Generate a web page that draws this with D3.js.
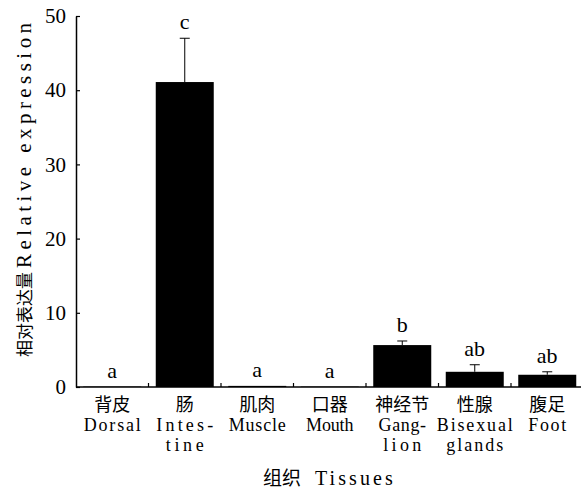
<!DOCTYPE html>
<html lang="zh">
<head>
<meta charset="UTF-8">
<title>相对表达量</title>
<style>
  body { margin: 0; background: #fff; }
</style>
</head>
<body>
<script src="https://cdn.jsdelivr.net/npm/d3@7/dist/d3.min.js"></script>
<script>
  var width = 581, height = 490;

  // 数据
  var tissuesCn = ["背皮", "肠", "肌肉", "口器", "神经节", "性腺", "腹足"];
  var tissuesEn = [["Dorsal"], ["Intes-", "tine"], ["Muscle"], ["Mouth"], ["Gang-", "lion"], ["Bisexual", "glands"], ["Foot"]];
  var expression = [0.05, 41.1, 0.15, 0.05, 5.65, 2.05, 1.65];
  var errors = [0, 5.9, 0, 0, 0.55, 0.95, 0.4];
  var letters = ["a", "c", "a", "a", "b", "ab", "ab"];
  var yTicks = [0, 10, 20, 30, 40, 50];

  var margin = { left: 76, top: 16, right: 0, bottom: 103 };
  var plotRight = 583.5;
  var enFont = "Liberation Serif, serif";
  var cnFont = "Noto Sans CJK SC, sans-serif";

  // 等宽效果：按字符数拉开间距
  function mono(sel, str, adv) {
    sel.text(str)
      .attr("textLength", str.length * adv)
      .attr("lengthAdjust", "spacing");
    return sel;
  }

  var svg = d3.select("body").append("svg")
    .attr("width", width)
    .attr("height", height);

  var x = d3.scaleBand()
    .domain(d3.range(tissuesCn.length))
    .range([margin.left, plotRight])
    .paddingInner(0.2)
    .paddingOuter(0.1);

  var y = d3.scaleLinear()
    .domain([0, 50])
    .range([height - margin.bottom, margin.top]);

  var step = x.step();
  var x0 = margin.left;

  // 柱子
  svg.selectAll("rect.bar")
    .data(expression)
    .enter()
    .append("rect")
    .attr("class", "bar")
    .attr("x", function(d, i) { return x(i); })
    .attr("y", function(d) { return y(d); })
    .attr("width", x.bandwidth())
    .attr("height", function(d) { return y(0) - y(d); })
    .attr("fill", "#000");

  // 误差线
  var eb = svg.append("g").attr("stroke", "#000").attr("stroke-width", 1);
  expression.forEach(function(d, i) {
    if (errors[i] <= 0) return;
    var cx = x(i) + x.bandwidth() / 2;
    eb.append("line")
      .attr("x1", cx).attr("x2", cx)
      .attr("y1", y(d)).attr("y2", y(d + errors[i]));
    eb.append("line")
      .attr("x1", cx - 5).attr("x2", cx + 5)
      .attr("y1", y(d + errors[i])).attr("y2", y(d + errors[i]));
  });

  // 显著性字母
  svg.selectAll("text.sig")
    .data(letters)
    .enter()
    .append("text")
    .attr("class", "sig")
    .attr("x", function(d, i) { return x(i) + x.bandwidth() / 2; })
    .attr("y", function(d, i) { return y(expression[i] + errors[i]) - 9; })
    .attr("text-anchor", "middle")
    .attr("font-family", enFont)
    .attr("font-size", 22)
    .text(function(d) { return d; });

  // y轴
  var yAxis = d3.axisLeft(y)
    .tickValues(yTicks)
    .tickSizeInner(-4)
    .tickSizeOuter(0)
    .tickPadding(10);

  var gy = svg.append("g")
    .attr("transform", "translate(" + x0 + ",0)")
    .call(yAxis);
  gy.select(".domain").attr("stroke-width", 1.5);
  gy.selectAll(".tick line").attr("stroke-width", 1.2);
  gy.selectAll(".tick text")
    .attr("font-family", enFont)
    .attr("font-size", 21)
    .attr("fill", "#000");

  // x轴
  var gx = svg.append("g");
  gx.append("line")
    .attr("x1", x0).attr("x2", width)
    .attr("y1", y(0)).attr("y2", y(0))
    .attr("stroke", "#000")
    .attr("stroke-width", 1.5);
  gx.selectAll("line.tk")
    .data(d3.range(1, tissuesCn.length))
    .enter()
    .append("line")
    .attr("class", "tk")
    .attr("x1", function(i) { return x0 + i * step; })
    .attr("x2", function(i) { return x0 + i * step; })
    .attr("y1", y(0))
    .attr("y2", y(0) - 4)
    .attr("stroke", "#000")
    .attr("stroke-width", 1.2);

  // 类别标签
  var lab = gx.selectAll("g.lab")
    .data(tissuesCn)
    .enter()
    .append("g")
    .attr("class", "lab")
    .attr("transform", function(d, i) {
      return "translate(" + (x(i) + x.bandwidth() / 2) + ",0)";
    });

  lab.append("text")
    .attr("y", 411)
    .attr("text-anchor", "middle")
    .attr("font-family", cnFont)
    .attr("font-size", 18)
    .text(function(d) { return d; });

  lab.each(function(d, i) {
    var g = d3.select(this);
    tissuesEn[i].forEach(function(s, k) {
      var t = g.append("text")
        .attr("y", 431 + k * 20)
        .attr("text-anchor", "middle")
        .attr("font-family", enFont)
        .attr("font-size", 18);
      mono(t, s, 9.5);
    });
  });

  // 轴标题
  svg.append("text")
    .attr("x", 263)
    .attr("y", 485)
    .attr("font-family", cnFont)
    .attr("font-size", 19)
    .text("组织");
  mono(svg.append("text")
    .attr("x", 315)
    .attr("y", 485)
    .attr("font-family", enFont)
    .attr("font-size", 20), "Tissues", 11.1);

  var yt = svg.append("g")
    .attr("transform", "translate(31,0) rotate(-90)");
  yt.append("text")
    .attr("x", -357)
    .attr("font-family", cnFont)
    .attr("font-size", 17)
    .attr("fill", "#000")
    .text("相对表达量");
  mono(yt.append("text")
    .attr("x", -268)
    .attr("font-family", enFont)
    .attr("font-size", 21)
    .attr("fill", "#000"), "Relative expression", 12.9);
</script>
</body>
</html>
